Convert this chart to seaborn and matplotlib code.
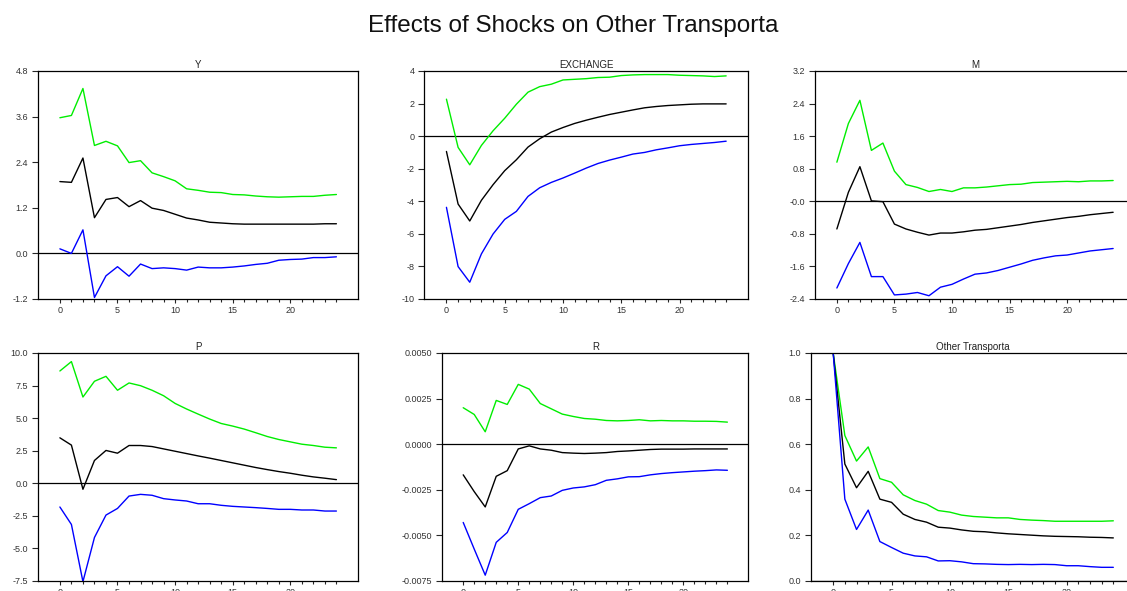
import numpy as np
import pandas as pd
import matplotlib
matplotlib.use("Agg")
import matplotlib.pyplot as plt
import seaborn as sns
from matplotlib.ticker import FixedLocator, FixedFormatter

sns.set_style("white")
plt.rcParams['font.family'] = ['Liberation Sans', 'DejaVu Sans']

steps = list(range(25))

# ---------------- data ----------------
y_upper = [3.57, 3.63, 4.34, 2.84, 2.95, 2.83, 2.39, 2.44, 2.12, 2.02, 1.91, 1.70, 1.66,
           1.61, 1.60, 1.55, 1.54, 1.51, 1.49, 1.48, 1.49, 1.50, 1.50, 1.53, 1.55]
y_mid = [1.89, 1.87, 2.51, 0.94, 1.42, 1.47, 1.23, 1.39, 1.19, 1.13, 1.03, 0.93, 0.88,
         0.82, 0.80, 0.78, 0.77, 0.77, 0.77, 0.77, 0.77, 0.77, 0.77, 0.78, 0.78]
y_lower = [0.12, 0.0, 0.62, -1.16, -0.59, -0.35, -0.60, -0.28, -0.40, -0.38, -0.40, -0.44, -0.36,
           -0.38, -0.38, -0.36, -0.33, -0.29, -0.26, -0.18, -0.16, -0.15, -0.11, -0.11, -0.09]

ex_upper = [2.27, -0.69, -1.76, -0.57, 0.33, 1.10, 1.96, 2.70, 3.04, 3.19, 3.45, 3.49, 3.53,
            3.60, 3.62, 3.72, 3.76, 3.78, 3.78, 3.78, 3.74, 3.72, 3.70, 3.66, 3.70]
ex_mid = [-0.94, -4.17, -5.21, -3.94, -2.98, -2.12, -1.45, -0.67, -0.16, 0.25, 0.53, 0.78, 0.98,
          1.16, 1.33, 1.47, 1.61, 1.74, 1.82, 1.88, 1.92, 1.96, 1.98, 1.98, 1.98]
ex_lower = [-4.37, -8.01, -8.97, -7.23, -6.01, -5.11, -4.62, -3.70, -3.17, -2.84, -2.57, -2.27, -1.96,
            -1.68, -1.47, -1.29, -1.10, -1.00, -0.84, -0.72, -0.59, -0.51, -0.45, -0.39, -0.31]

m_upper = [0.96, 1.91, 2.48, 1.25, 1.43, 0.74, 0.41, 0.34, 0.24, 0.29, 0.24, 0.33, 0.33,
           0.35, 0.38, 0.41, 0.42, 0.46, 0.47, 0.48, 0.49, 0.48, 0.50, 0.50, 0.51]
m_mid = [-0.68, 0.22, 0.85, 0.01, -0.01, -0.56, -0.68, -0.76, -0.83, -0.78, -0.78, -0.75, -0.71,
         -0.69, -0.65, -0.61, -0.57, -0.52, -0.48, -0.44, -0.40, -0.37, -0.33, -0.30, -0.27]
m_lower = [-2.13, -1.53, -1.01, -1.85, -1.85, -2.30, -2.28, -2.24, -2.32, -2.11, -2.04, -1.91, -1.79,
           -1.76, -1.70, -1.62, -1.54, -1.45, -1.39, -1.34, -1.32, -1.27, -1.22, -1.19, -1.16]

p_upper = [8.62, 9.34, 6.62, 7.83, 8.21, 7.14, 7.70, 7.49, 7.14, 6.72, 6.13, 5.70, 5.31,
           4.93, 4.59, 4.39, 4.16, 3.88, 3.59, 3.36, 3.18, 3.00, 2.90, 2.77, 2.72]
p_mid = [3.49, 2.93, -0.46, 1.75, 2.52, 2.31, 2.90, 2.90, 2.82, 2.64, 2.46, 2.28, 2.10,
         1.93, 1.75, 1.57, 1.39, 1.21, 1.05, 0.90, 0.77, 0.62, 0.49, 0.39, 0.28]
p_lower = [-1.82, -3.16, -7.55, -4.16, -2.44, -1.93, -0.98, -0.85, -0.92, -1.18, -1.28, -1.36, -1.57,
           -1.57, -1.69, -1.77, -1.82, -1.87, -1.93, -2.00, -2.00, -2.05, -2.05, -2.13, -2.13]

r_upper = [0.00200, 0.00163, 0.00068, 0.00240, 0.00218, 0.00328, 0.00302, 0.00223, 0.00194,
           0.00165, 0.00152, 0.00141, 0.00137, 0.00130, 0.00128, 0.00130, 0.00134, 0.00128,
           0.00130, 0.00128, 0.00128, 0.00126, 0.00126, 0.00125, 0.00121]
r_mid = [-0.00168, -0.00260, -0.00344, -0.00176, -0.00145, -0.00026, -0.00009, -0.00026, -0.00033,
         -0.00046, -0.00049, -0.00051, -0.00049, -0.00046, -0.00040, -0.00037, -0.00033, -0.00029,
         -0.00027, -0.00027, -0.00027, -0.00026, -0.00026, -0.00026, -0.00026]
r_lower = [-0.00429, -0.00575, -0.00718, -0.00538, -0.00484, -0.00357, -0.00326, -0.00293, -0.00284,
           -0.00253, -0.00240, -0.00234, -0.00222, -0.00198, -0.00190, -0.00179, -0.00178, -0.00168,
           -0.00161, -0.00156, -0.00152, -0.00148, -0.00145, -0.00141, -0.00143]

o_upper = [1.0, 0.638, 0.526, 0.588, 0.449, 0.433, 0.378, 0.353, 0.337, 0.309, 0.302, 0.289, 0.283,
           0.280, 0.277, 0.277, 0.270, 0.267, 0.265, 0.262, 0.262, 0.262, 0.262, 0.262, 0.264]
o_mid = [1.0, 0.513, 0.409, 0.481, 0.359, 0.345, 0.293, 0.270, 0.258, 0.236, 0.232, 0.224, 0.218,
         0.216, 0.211, 0.207, 0.204, 0.201, 0.198, 0.196, 0.195, 0.194, 0.192, 0.191, 0.189]
o_lower = [1.0, 0.359, 0.226, 0.311, 0.173, 0.147, 0.122, 0.110, 0.106, 0.088, 0.089, 0.084, 0.076,
           0.075, 0.073, 0.072, 0.073, 0.072, 0.073, 0.072, 0.067, 0.067, 0.063, 0.060, 0.060]

titles = ["Y", "EXCHANGE", "M", "P", "R", "Other Transporta"]

y_ticks = [-1.2, 0.0, 1.2, 2.4, 3.6, 4.8]
y_labels = ["-1.2", "0.0", "1.2", "2.4", "3.6", "4.8"]
ex_ticks = [-10, -8, -6, -4, -2, 0, 2, 4]
ex_labels = ["-10", "-8", "-6", "-4", "-2", "0", "2", "4"]
m_ticks = [-2.4, -1.6, -0.8, 0.0, 0.8, 1.6, 2.4, 3.2]
m_labels = ["-2.4", "-1.6", "-0.8", "-0.0", "0.8", "1.6", "2.4", "3.2"]
p_ticks = [-7.5, -5.0, -2.5, 0.0, 2.5, 5.0, 7.5, 10.0]
p_labels = ["-7.5", "-5.0", "-2.5", "0.0", "2.5", "5.0", "7.5", "10.0"]
r_ticks = [-0.0075, -0.0050, -0.0025, 0.0, 0.0025, 0.0050]
r_labels = ["-0.0075", "-0.0050", "-0.0025", "0.0000", "0.0025", "0.0050"]
o_ticks = [0.0, 0.2, 0.4, 0.6, 0.8, 1.0]
o_labels = ["0.0", "0.2", "0.4", "0.6", "0.8", "1.0"]

x_major = [0, 5, 10, 15, 20]
x_major_labels = ["0", "5", "10", "15", "20"]
x_minor = [1, 2, 3, 4, 6, 7, 8, 9, 11, 12, 13, 14, 16, 17, 18, 19, 21, 22, 23, 24]

panels = [
    (y_upper, y_mid, y_lower, y_ticks, y_labels),
    (ex_upper, ex_mid, ex_lower, ex_ticks, ex_labels),
    (m_upper, m_mid, m_lower, m_ticks, m_labels),
    (p_upper, p_mid, p_lower, p_ticks, p_labels),
    (r_upper, r_mid, r_lower, r_ticks, r_labels),
    (o_upper, o_mid, o_lower, o_ticks, o_labels),
]

# ---------------- layout (pixels) ----------------
W, H = 1127, 591
boxes = [  # left, top, right, bottom in px
    (38, 71, 358.3, 299),
    (424.3, 71, 748.3, 299),
    (815, 71, 1135, 299),
    (38, 353, 358.3, 581),
    (442.3, 353, 748.3, 581),
    (811, 353, 1135.5, 581),
]

fig = plt.figure(figsize=(W / 100, H / 100), dpi=100)
fig.text(573.5 / W, 1 - 32 / H, "Effects of Shocks on Other Transporta",
         ha="center", va="baseline", fontsize=17.5, color="#111111")

for (l, t, r, b), title, (up, mid, lo, yt, yl) in zip(boxes, titles, panels):
    ax = fig.add_axes([l / W, 1 - b / H, (r - l) / W, (b - t) / H])
    df = pd.DataFrame({"step": steps, "upper": up, "mid": mid, "lower": lo})
    ax.axhline(0, color="black", lw=0.9, zorder=1)
    sns.lineplot(data=df, x="step", y="upper", ax=ax, color="#00ee00", lw=1.0)
    sns.lineplot(data=df, x="step", y="mid", ax=ax, color="black", lw=1.0)
    sns.lineplot(data=df, x="step", y="lower", ax=ax, color="#0000ff", lw=1.0)
    ax.set_xlim(-1.9, 25.9)
    ax.set_ylim(yt[0], yt[-1])
    ax.yaxis.set_major_locator(FixedLocator(yt))
    ax.yaxis.set_major_formatter(FixedFormatter(yl))
    ax.xaxis.set_major_locator(FixedLocator(x_major))
    ax.xaxis.set_major_formatter(FixedFormatter(x_major_labels))
    ax.xaxis.set_minor_locator(FixedLocator(x_minor))
    ax.set_xlabel("")
    ax.set_ylabel("")
    ax.set_title(title, fontsize=7, pad=2.5, color="#222222")
    for s in ax.spines.values():
        s.set_visible(True)
        s.set_color("black")
        s.set_linewidth(0.9)
    ax.tick_params(axis="y", which="major", direction="out", length=4, width=0.8,
                   labelsize=6.5, labelcolor="#333333", pad=3, left=True)
    ax.tick_params(axis="x", which="major", direction="out", length=3, width=0.8,
                   labelsize=6.5, labelcolor="#333333", pad=2, bottom=True)
    ax.tick_params(axis="x", which="minor", direction="out", length=1.8, width=0.8, bottom=True)
    ax.grid(False)

fig.savefig("out.png", dpi=100)
